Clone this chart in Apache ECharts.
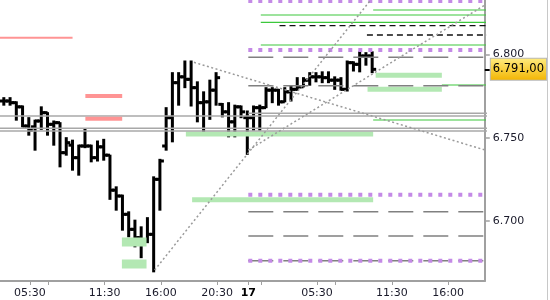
<!DOCTYPE html>
<html><head><meta charset="utf-8">
<script src="https://cdn.jsdelivr.net/npm/echarts@6/dist/echarts.min.js"></script>
<style>html,body{margin:0;padding:0;background:#fff}#c{width:550px;height:300px}</style>
</head><body><div id="c"></div>
<script>
// 30-minute bars, slot index = position on the time axis (day 16 03:30 ... day 17)
var times = ['16 03:30','16 04:00','16 04:30','16 05:00','16 05:30','16 06:00','16 06:30','16 07:00','16 07:30','16 08:00',
  '16 08:30','16 09:00','16 09:30','16 10:00','16 10:30','16 11:00','16 11:30','16 12:00','16 12:30','16 13:00',
  '16 13:30','16 14:00','16 14:30','16 15:00','16 15:30','16 16:00','16 16:30','16 17:00','16 17:30','16 18:00',
  '16 18:30','16 19:00','16 19:30','16 20:00','16 20:30','16 21:00','16 21:30','16 22:00','16 22:30','17 00:00',
  '17 00:30','17 01:00','17 01:30','17 02:00','17 02:30','17 03:00','17 03:30','17 04:00','17 04:30','17 05:00',
  '17 05:30','17 06:00','17 06:30','17 07:00','17 07:30','17 08:00','17 08:30','17 09:00','17 09:30','17 10:00'];
var opens  = [6772,6772,6771,6768.5,6757,6756.5,6760,6765,6758,6759,6741,6745.5,6738,6745,6745,6738,6744.5,6739.5,6718.5,6715,
  6704,6695,6690,6688.5,6692,6725,6745,6762,6783,6786.5,6785,6780,6771,6771.5,6778.5,6770,6765.5,6759.5,6768.5,6762,
  6762,6768,6768,6778.5,6778.5,6771.5,6777.5,6779,6780.5,6784.5,6786.5,6786.5,6786,6784.5,6784.5,6779,6795,6794,6799,6799];
var highs  = [6774,6774,6771.5,6769,6762,6760.5,6768.5,6765,6760,6759,6750,6748.5,6745.5,6755,6745.5,6748,6749,6739.5,6720.5,6715.5,
  6705.5,6700.5,6696.5,6702,6726.5,6737,6768,6789,6789,6796,6796,6783.5,6777.5,6784.5,6789,6770.5,6771,6769.5,6769,6766,
  6769,6769.5,6780,6780,6779,6780,6781,6786,6786,6789,6789,6789.5,6789.5,6786.5,6786,6796,6795.5,6801.5,6801,6801.5];
var lows   = [6769.5,6769.5,6760.5,6756.5,6751.5,6742.5,6755,6751.5,6745.5,6732.5,6739.5,6730.5,6727.5,6744,6735.5,6736,6736.5,6713,6706.5,6694.5,
  6690.5,6684.5,6678,6687,6669.5,6706.5,6742.5,6747.5,6769.5,6780,6769,6759.5,6753,6761,6769.5,6762.5,6750.5,6750.5,6762,6740,
  6754.5,6754.5,6768,6771,6769.5,6771.5,6772,6778.5,6780.5,6781.5,6783.5,6783,6783,6779,6778.5,6778,6790,6789.5,6793.5,6789];
var closes = [6772,6771,6768.5,6757,6754.5,6760,6765,6758,6759,6741,6747,6738,6745,6745,6738,6744.5,6739.5,6718.5,6715,6704,
  6695,6690,6688.5,6692,6725,6736,6762,6783,6786.5,6785,6780,6771,6771.5,6778.5,6786,6765.5,6759.5,6768.5,6765.5,6762,
  6768,6768,6778.5,6778.5,6771.5,6777.5,6779,6780.5,6784.5,6786.5,6786.5,6786,6784.5,6784.5,6779,6795,6794,6799,6799,6791];

// x-axis ticks / labels (slot positions)
var tickSlots  = [4,7,16,25,34,39,41,50,53,62,71];
var labelSlots = [4,16,25,34,39,50,62,71];
var labelTexts = ['05:30','11:30','16:00','20:30','17','05:30','11:30','16:00'];
var dayLabels  = ['17'];
// y-axis
var yTicks = [6700,6750,6800];
var lastPrice = 6791;

// levels: [startSlot, endSlot, price]
var redThin     = [[-1,10.85,6810]];
var redThick    = [[12.9,18.8,6775],[12.9,18.8,6761.4]];
var graySolid   = [[-1,78,6763],[39,78,6764.6],[-1,78,6755.6],[-1,78,6754]];
var greenZones  = [[29,59,6752.2],[30,59,6712.7],[59.4,70,6787.5],[58.1,70,6779.1]];
var greenZonesW = [[18.75,22.7,6687.4],[18.75,22.7,6674.2]];
var greenLines  = [[59,78,6826.6],[41,78,6823.6],[41,78,6819.2],[41,78,6805.6],[70,78,6781.6],[59,78,6760.6]];
var blackDashed = [[44,78,6817.2],[58,78,6811.6]];
var grayDashed  = [[39,78,6798.2],[39,78,6781.2],[39,78,6705.6],[39,78,6691],[39,78,6676.2]];
var purpleDots  = [[39,78,6832],[39,78,6802.6],[39,78,6715.8],[39,78,6676.2]];
// trend lines: [x1, p1, x2, p2]
var trendLines  = [[30.3,6795.2,76.9,6742.6],[24,6670.6,58.6,6832.6],[39,6742.5,76.9,6829.6]];

var X_MIN = -0.773, X_MAX = 76.88, Y_MIN = 6664.0, Y_MAX = 6832.6;
var FONT = 'DejaVu Sans';

function de(v, dec){
  var neg = v < 0; v = Math.abs(v);
  var ip = Math.floor(v + 1e-9);
  var s = String(ip % 1000); while (s.length < 3 && ip >= 1000) s = '0' + s;
  var out = (ip >= 1000 ? Math.floor(ip/1000) + '.' : '') + s;
  if (dec) { var f = Math.round((v - ip) * Math.pow(10,dec)); var fs = String(f); while (fs.length<dec) fs='0'+fs; out += ',' + fs; }
  return (neg?'-':'') + out;
}

var series = [];
function addLevels(arr, style){
  arr.forEach(function(l){
    series.push({type:'line', data:[[l[0],l[2]],[l[1],l[2]]], symbol:'none', silent:true, animation:false,
      clip:true, lineStyle: Object.assign({cap:'butt'}, style)});
  });
}
addLevels(greenZonesW, {color:'#b3e8b3', width:9});
addLevels(greenZones,  {color:'#b3e8b3', width:5});
addLevels(graySolid,   {color:'#a8a8a8', width:1.5});
addLevels(redThin,     {color:'#ff9494', width:2});
addLevels(redThick,    {color:'#ff9494', width:4});
addLevels(greenLines,  {color:'#3cc83c', width:1.2});
addLevels(blackDashed, {color:'#111', width:1.3, type:[6,4]});
addLevels(grayDashed,  {color:'#808080', width:1.5, type:[25,10]});
addLevels(purpleDots,  {color:'#c48ae6', width:4, type:[4,6]});
trendLines.forEach(function(t){
  series.push({type:'line', data:[[t[0],t[1]],[t[2],t[3]]], symbol:'none', silent:true, animation:false, clip:true,
    lineStyle:{color:'#9a9a9a', width:1.5, type:[2,2.5]}});
});

var ohlc = times.map(function(t,i){ return [i, opens[i], highs[i], lows[i], closes[i]]; });
series.push({
  type:'custom', data: ohlc, animation:false, silent:true,
  encode:{x:0, y:[1,2,3,4]},
  renderItem: function(params, api){
    var x = api.value(0);
    var pH = api.coord([x, api.value(2)]), pL = api.coord([x, api.value(3)]);
    var pO = api.coord([x, api.value(1)]), pC = api.coord([x, api.value(4)]);
    var cx = pH[0] - 1;
    var st = {stroke:'#000', lineWidth:3, lineCap:'butt'};
    return {type:'group', children:[
      {type:'line', shape:{x1:cx, y1:pH[1]-0.5, x2:cx, y2:pL[1]+0.5}, style:st},
      {type:'line', shape:{x1:cx-4, y1:pO[1], x2:cx, y2:pO[1]}, style:st},
      {type:'line', shape:{x1:cx, y1:pC[1], x2:cx+4, y2:pC[1]}, style:st}
    ]};
  }
});

var chart = echarts.init(document.getElementById('c'), null, {renderer:'canvas'});
chart.setOption({
  animation:false,
  backgroundColor:'#fff',
  grid:{left:0, right:62, top:0, bottom:19, containLabel:false},
  graphic:[{type:'line', shape:{x1:547.5, y1:0, x2:547.5, y2:300}, style:{stroke:'#c8c8c8', lineWidth:1}, silent:true}],
  xAxis:{
    type:'value', min:X_MIN, max:X_MAX,
    axisLine:{show:true, onZero:false, lineStyle:{color:'#a0a0a0', width:2}},
    axisTick:{show:true, customValues:tickSlots, length:4, lineStyle:{color:'#a0a0a0', width:1}},
    axisLabel:{show:true, customValues:labelSlots, margin:7, fontFamily:FONT, fontSize:11, color:'#1a1a2a',
      formatter:function(v){
        var k = labelSlots.indexOf(Math.round(v));
        if (k < 0) return '';
        var t = labelTexts[k];
        return dayLabels.indexOf(t) >= 0 ? '{d|' + t + '}' : t;
      },
      rich:{d:{fontFamily:FONT, fontSize:11, fontWeight:'bold', color:'#000'}}
    },
    splitLine:{show:false}
  },
  yAxis:[{
    type:'value', position:'right', min:Y_MIN, max:Y_MAX,
    axisLine:{show:true, onZero:false, lineStyle:{color:'#a0a0a0', width:2}},
    axisTick:{show:true, customValues:yTicks, length:5, lineStyle:{color:'#a0a0a0', width:1.5}},
    axisLabel:{show:true, customValues:yTicks, margin:8, fontFamily:FONT, fontSize:11, color:'#1a1a2a',
      formatter:function(v){ return de(v, 0); }},
    splitLine:{show:false}
  },{
    type:'value', position:'right', min:Y_MIN, max:Y_MAX,
    axisLine:{show:false, onZero:false},
    axisTick:{show:true, customValues:[lastPrice], length:5, lineStyle:{color:'#000', width:2}},
    axisLabel:{show:true, customValues:[lastPrice], margin:6, fontFamily:FONT, fontSize:11.5, color:'#000',
      formatter:function(v){ return de(v, 2); },
      backgroundColor: new echarts.graphic.LinearGradient(0,0,0,1,[{offset:0,color:'#ffec80'},{offset:1,color:'#f2b400'}]),
      borderColor:'#b8b8b8', borderWidth:1, padding:[5,2,4,2]},
    splitLine:{show:false}
  }],
  series: series
});
</script></body></html>
